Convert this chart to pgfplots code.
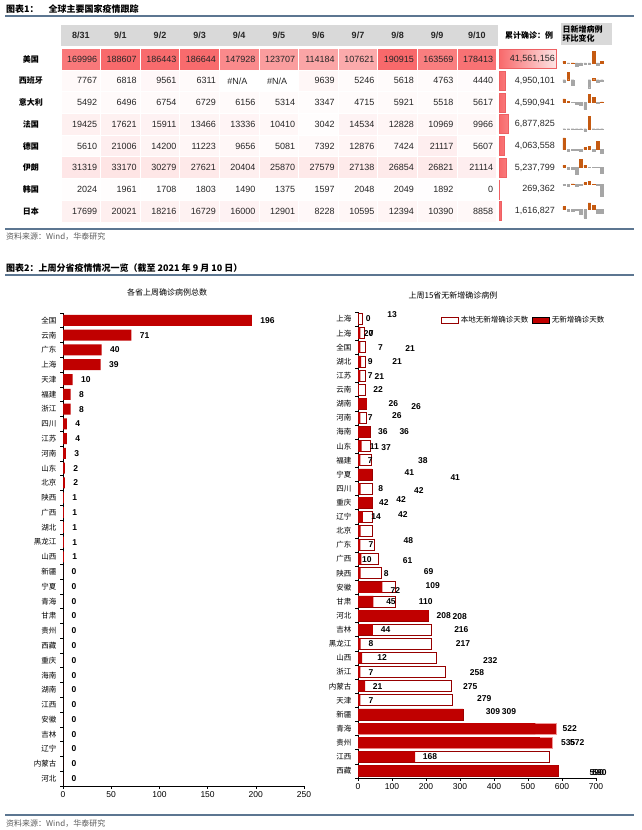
\documentclass[border=0pt]{standalone}
\usepackage{fontspec}
\setmainfont{Liberation Sans}
\newfontfamily\cjk{Noto Sans CJK SC}
\usepackage{pgfplots}
\usepackage{pgfplotstable}
\pgfplotsset{compat=1.18}
\definecolor{dred}{RGB}{192,0,0}
\definecolor{bred}{RGB}{150,0,0}
\definecolor{rulec}{RGB}{92,118,145}
\definecolor{hdr}{RGB}{217,217,217}
\definecolor{heat}{RGB}{248,105,107}
\definecolor{heatlt}{RGB}{253,228,228}
\definecolor{heatbd}{RGB}{238,96,99}
\definecolor{spos}{RGB}{197,90,17}
\definecolor{sneg}{RGB}{166,166,166}
\definecolor{srcc}{RGB}{90,90,90}
\pgfdeclareplotmark{cell}{\pgfpathrectangle{\pgfqpoint{-19.8pt}{-10.85pt}}{\pgfqpoint{39.6pt}{21.7pt}}\pgfusepathqfillstroke}
\newcommand\NA{\#N/A\kern8pt}

% daily new cases table (NA cells: colour value 0)
\pgfplotstableread{
x y v lab
0 0 169996 169996
1 0 188607 188607
2 0 186443 186443
3 0 186644 186644
4 0 147928 147928
5 0 123707 123707
6 0 114184 114184
7 0 107621 107621
8 0 190915 190915
9 0 163569 163569
10 0 178413 178413
0 1 7767 7767
1 1 6818 6818
2 1 9561 9561
3 1 6311 6311
4 1 0 \NA
5 1 0 \NA
6 1 9639 9639
7 1 5246 5246
8 1 5618 5618
9 1 4763 4763
10 1 4440 4440
0 2 5492 5492
1 2 6496 6496
2 2 6754 6754
3 2 6729 6729
4 2 6156 6156
5 2 5314 5314
6 2 3347 3347
7 2 4715 4715
8 2 5921 5921
9 2 5518 5518
10 2 5617 5617
0 3 19425 19425
1 3 17621 17621
2 3 15911 15911
3 3 13466 13466
4 3 13336 13336
5 3 10410 10410
6 3 3042 3042
7 3 14534 14534
8 3 12828 12828
9 3 10969 10969
10 3 9966 9966
0 4 5610 5610
1 4 21006 21006
2 4 14200 14200
3 4 11223 11223
4 4 9656 9656
5 4 5081 5081
6 4 7392 7392
7 4 12876 12876
8 4 7424 7424
9 4 21117 21117
10 4 5607 5607
0 5 31319 31319
1 5 33170 33170
2 5 30279 30279
3 5 27621 27621
4 5 20404 20404
5 5 25870 25870
6 5 27579 27579
7 5 27138 27138
8 5 26854 26854
9 5 26821 26821
10 5 21114 21114
0 6 2024 2024
1 6 1961 1961
2 6 1708 1708
3 6 1803 1803
4 6 1490 1490
5 6 1375 1375
6 6 1597 1597
7 6 2048 2048
8 6 2049 2049
9 6 1892 1892
10 6 0 0
0 7 17699 17699
1 7 20021 20021
2 7 18216 18216
3 7 16729 16729
4 7 16000 16000
5 7 12901 12901
6 7 8228 8228
7 7 10595 10595
8 7 12394 12394
9 7 10390 10390
10 7 8858 8858
}\heat

\pgfplotstableread{
y c lab
0 41561156 41,561,156
1 4950101 4,950,101
2 4590941 4,590,941
3 6877825 6,877,825
4 4063558 4,063,558
5 5237799 5,237,799
6 269362 269,362
7 1616827 1,616,827
}\cum

% day-on-day change, %
\pgfplotstableread{
x us es it fr de ir kr jp
1 10.9 -12.2 18.3 -9.3 274.4 5.9 -3.1 13.1
2 -1.1 40.2 4.0 -9.7 -32.4 -8.7 -12.9 -9.0
3 0.1 -34.0 -0.4 -15.4 -21.0 -8.8 5.6 -8.2
4 -20.7 nan -8.5 -1.0 -14.0 -26.1 -17.4 -4.4
5 -16.4 nan -13.7 -21.9 -47.4 26.8 -7.7 -19.4
6 -7.7 nan -37.0 -70.8 45.5 6.6 16.1 -36.2
7 -5.7 -45.6 40.9 377.8 74.2 -1.6 28.2 28.8
8 77.4 7.1 25.6 -11.7 -42.3 -1.0 0.05 17.0
9 -14.3 -15.2 -6.8 -14.5 184.4 -0.1 -7.7 -16.2
10 9.1 -6.8 1.8 -9.1 -73.4 -21.3 -100 -14.7
}\spark

\pgfplotstableread{
i v
31 196
30 71
29 40
28 39
27 10
26 8
25 8
24 4
23 4
22 3
21 2
20 2
19 1
18 1
17 1
16 1
15 1
14 0
13 0
12 0
11 0
10 0
9 0
8 0
7 0
6 0
5 0
4 0
3 0
2 0
1 0
0 0
}\prov

\pgfplotstableread{
j o f
32 13 0
31 20 7
30 21 7
29 21 9
28 21 7
27 22 2
26 26 26
25 26 7
24 36 36
23 37 11
22 38 7
21 41 41
20 42 8
19 42 42
18 42 14
17 43 8
16 48 7
15 61 10
14 69 8
13 109 72
12 110 45
11 208 208
10 216 44
9 217 8
8 232 12
7 258 7
6 275 21
5 279 7
4 309 309
3 583 522
2 572 535
1 562 168
0 590 590
}\rdata

\pgfplotstableread{
lx ly lab
30 32 0
100 32.3 13
31 31 20
39 31 7
66 30 7
153 29.9 21
36 29 9
115 29 21
36 28 7
63 27.9 21
59 27 22
104 26 26
171 25.8 26
36 25 7
114 25.2 26
73 24 36
136 24 36
48 23 11
83 22.9 37
36 22 7
191 22 38
151 21.1 41
286 20.8 41
67 20 8
179 19.85 42
76 19 42
127 19.2 42
53 18 14
132 18.15 42
38 16 7
148 16.3 48
26 15 10
146 14.9 61
83 14 8
208 14.15 69
110 12.8 72
220 13.1 109
97 12 45
199 12 110
252 11 208
299 10.9 208
81 10 44
304 10 216
38 9 8
309 9 217
71 8 12
389 7.8 232
38 7 7
350 7 258
58 6 21
330 6 275
38 5 7
371 5.1 279
397 4.2 309
444 4.2 309
623 3 522
618 2 535
645 2 572
212 1 168
702 -0.1 590
710 -0.1 590
}\rlab

\begin{document}
\begin{tikzpicture}
\path[use as bounding box] (0pt,0pt) rectangle (641pt,-830pt);

% ---------- Chart 1 header ----------
\node[anchor=west, font=\cjk\bfseries\fontsize{9}{10}\selectfont, inner sep=0pt] at (6pt,-9.5pt) {图表1：\hspace{10pt}全球主要国家疫情跟踪};
\draw[rulec, line width=2pt] (5pt,-16pt) -- (634pt,-16pt);

\fill[hdr] (61pt,-25pt) rectangle (498pt,-46pt);
\foreach \d [count=\k from 0] in {8/31,9/1,9/2,9/3,9/4,9/5,9/6,9/7,9/8,9/9,9/10}{
  \node[font=\bfseries\fontsize{9}{10}\selectfont, text=black!85] at ({(80.8+39.6*\k)*1pt},-35.5pt) {\d};
}
\node[font=\cjk\bfseries\fontsize{8}{9}\selectfont] at (529pt,-35.5pt) {累计确诊：例};
\fill[hdr] (561pt,-23pt) rectangle (612pt,-45pt);
\node[font=\cjk\bfseries\fontsize{8}{9.5}\selectfont, align=left, anchor=west, inner sep=0pt] at (562.5pt,-34pt) {日新增病例\\环比变化};

\foreach \n [count=\r from 0] in {美国,西班牙,意大利,法国,德国,伊朗,韩国,日本}{
  \node[font=\cjk\bfseries\fontsize{8}{9}\selectfont] at (31pt,{-(59.15+21.7*\r)*1pt}) {\n};
}

% heat-map table
\begin{axis}[at={(61pt,-221.9pt)}, anchor=south west, scale only axis,
  width=435.6pt, height=173.6pt, xmin=-0.5, xmax=10.5, ymin=-0.5, ymax=7.5,
  y dir=reverse, hide axis, clip=false,
  colormap={heatmap}{rgb255(0cm)=(255,255,255); rgb255(1cm)=(248,105,107)},
  point meta min=0, point meta max=190915]
\addplot[scatter, only marks, mark=cell, point meta=explicit,
  scatter/use mapped color={draw=white, fill=mapped color},
  mark options={line width=0.8pt}] table[x=x, y=y, meta=v] {\heat};
\addplot[only marks, mark=none, nodes near coords, point meta=explicit symbolic,
  nodes near coords style={anchor=east, xshift=16.5pt, inner sep=0pt,
  font=\fontsize{9}{10}\selectfont, text=black!85}] table[x=x, y=y, meta=lab] {\heat};
\end{axis}

% cumulative data bars
\begin{axis}[at={(499pt,-221.9pt)}, anchor=south west, scale only axis,
  width=57pt, height=173.6pt, xmin=0, xmax=41561156, ymin=-0.5, ymax=7.5,
  y dir=reverse, hide axis, clip=false]
\addplot[xbar, bar width=19pt, bar shift=0pt, draw=heatbd, line width=0.6pt,
  left color=heat, right color=heatlt] table[x=c, y=y] {\cum};
\addplot[only marks, mark=none, nodes near coords, point meta=explicit symbolic,
  nodes near coords style={anchor=east, inner sep=0pt, xshift=-1pt,
  font=\fontsize{9}{10}\selectfont, text=black!85}] table[x expr=41561156, y=y, meta=lab] {\cum};
\end{axis}

% sparklines
\foreach \col [count=\r from 0] in {us,es,it,fr,de,ir,kr,jp}{
  \pgfmathsetmacro\yy{-(58.5+21.7*\r)}
  \begin{axis}[at={(562pt,\yy pt)}, anchor=west, scale only axis, width=42pt, height=15pt,
    xmin=0.5, xmax=10.5, hide axis, enlarge y limits=false, clip=false]
  \addplot[ybar, bar width=2.6pt, bar shift=0pt, fill=spos, draw=spos, line width=0.4pt,
    restrict y to domain=0:1000] table[x=x, y=\col] {\spark};
  \addplot[ybar, bar width=2.6pt, bar shift=0pt, fill=sneg, draw=sneg, line width=0.4pt,
    restrict y to domain=-1000:0] table[x=x, y=\col] {\spark};
  \end{axis}
}

\draw[rulec, line width=2pt] (5pt,-228.5pt) -- (634pt,-228.5pt);
\node[anchor=west, font=\cjk\fontsize{8}{9}\selectfont, text=srcc, inner sep=0pt] at (6pt,-236.5pt) {资料来源：Wind，华泰研究};

% ---------- Chart 2 header ----------
\node[anchor=west, font=\cjk\bfseries\fontsize{9}{10}\selectfont, inner sep=0pt] at (6pt,-268pt) {图表2：上周分省疫情情况一览（截至 2021 年 9 月 10 日）};
\draw[rulec, line width=2pt] (5pt,-275pt) -- (634pt,-275pt);

% left chart
\node[font=\cjk\fontsize{8}{9}\selectfont] at (167pt,-292pt) {各省上周确诊病例总数};
\begin{axis}[at={(63pt,-786pt)}, anchor=south west, scale only axis,
  width=241pt, height=473pt, xmin=0, xmax=250, ymin=-0.5, ymax=31.5,
  axis x line*=bottom, axis y line*=left, axis line style={line width=0.8pt},
  xtick={0,50,...,250}, minor xtick={0,50,...,250},
  ytick={0,...,31},
  yticklabels={河北,内蒙古,辽宁,吉林,安徽,江西,湖南,海南,重庆,西藏,贵州,甘肃,青海,宁夏,新疆,山西,黑龙江,湖北,广西,陕西,北京,山东,河南,江苏,四川,浙江,福建,天津,上海,广东,云南,全国},
  minor ytick={-0.5,0.5,...,31.5},
  major tick length=0pt, minor tick length=3pt, tick align=outside,
  tick style={black, line width=0.6pt},
  xticklabel style={font=\fontsize{8.5}{9}\selectfont, yshift=-2pt},
  yticklabel style={font=\cjk\fontsize{7.5}{8}\selectfont, xshift=-3pt},
  /pgf/number format/assume math mode=true, clip=false]
\addplot[xbar, bar width=11pt, bar shift=0pt, fill=dred, draw=none,
  nodes near coords, nodes near coords style={anchor=west, xshift=5pt,
  font=\bfseries\fontsize{8.5}{9}\selectfont, text=black}] table[x=v, y=i] {\prov};
\end{axis}

% right chart
\node[font=\cjk\fontsize{8}{9}\selectfont] at (453pt,-295pt) {上周15省无新增确诊病例};
\begin{axis}[at={(358pt,-778pt)}, anchor=south west, scale only axis,
  width=238pt, height=466pt, xmin=0, xmax=700, ymin=-0.5, ymax=32.5,
  axis x line*=bottom, axis y line*=left, axis line style={line width=0.8pt},
  xtick={0,100,...,700}, minor xtick={0,100,...,700},
  ytick={0,...,32},
  yticklabels={西藏,江西,贵州,青海,新疆,天津,内蒙古,浙江,山西,黑龙江,吉林,河北,甘肃,安徽,陕西,广西,广东,北京,辽宁,重庆,四川,宁夏,福建,山东,海南,河南,湖南,云南,江苏,湖北,全国,上海,上海},
  minor ytick={-0.5,0.5,...,32.5},
  major tick length=0pt, minor tick length=3pt, tick align=outside,
  tick style={black, line width=0.6pt},
  xticklabel style={font=\fontsize{8.5}{9}\selectfont, yshift=-2pt},
  yticklabel style={font=\cjk\fontsize{7.5}{8}\selectfont, xshift=-3pt},
  /pgf/number format/assume math mode=true, clip=false,
  legend style={at={(0.335,1.0)}, anchor=north west, draw=none, fill=none,
    legend columns=2, font=\cjk\fontsize{7.5}{8}\selectfont,
    /tikz/every even column/.append style={column sep=2pt}}]
\addplot[xbar, bar width=11pt, bar shift=0pt, fill=white, draw=bred, line width=0.8pt, area legend]
  table[x=o, y=j] {\rdata};
\addlegendentry{本地无新增确诊天数}
\addplot[xbar, bar width=11pt, bar shift=0pt, fill=dred, draw={rgb,255:red,240;green,150;blue,150},
  line width=0.5pt, forget plot] coordinates {(583,3) (572,2)};
\addplot[xbar, bar width=11pt, bar shift=0pt, fill=dred, draw=none, area legend]
  table[x=f, y=j] {\rdata};
\addlegendentry{无新增确诊天数}
\addplot[only marks, mark=none, forget plot, nodes near coords, point meta=explicit symbolic,
  nodes near coords style={anchor=center, inner sep=0pt,
  font=\bfseries\fontsize{8.5}{9}\selectfont, text=black}] table[x=lx, y=ly, meta=lab] {\rlab};
\end{axis}

\draw[rulec, line width=2pt] (5pt,-815pt) -- (634pt,-815pt);
\node[anchor=west, font=\cjk\fontsize{8}{9}\selectfont, text=srcc, inner sep=0pt] at (6pt,-823.5pt) {资料来源：Wind，华泰研究};
\end{tikzpicture}
\end{document}
